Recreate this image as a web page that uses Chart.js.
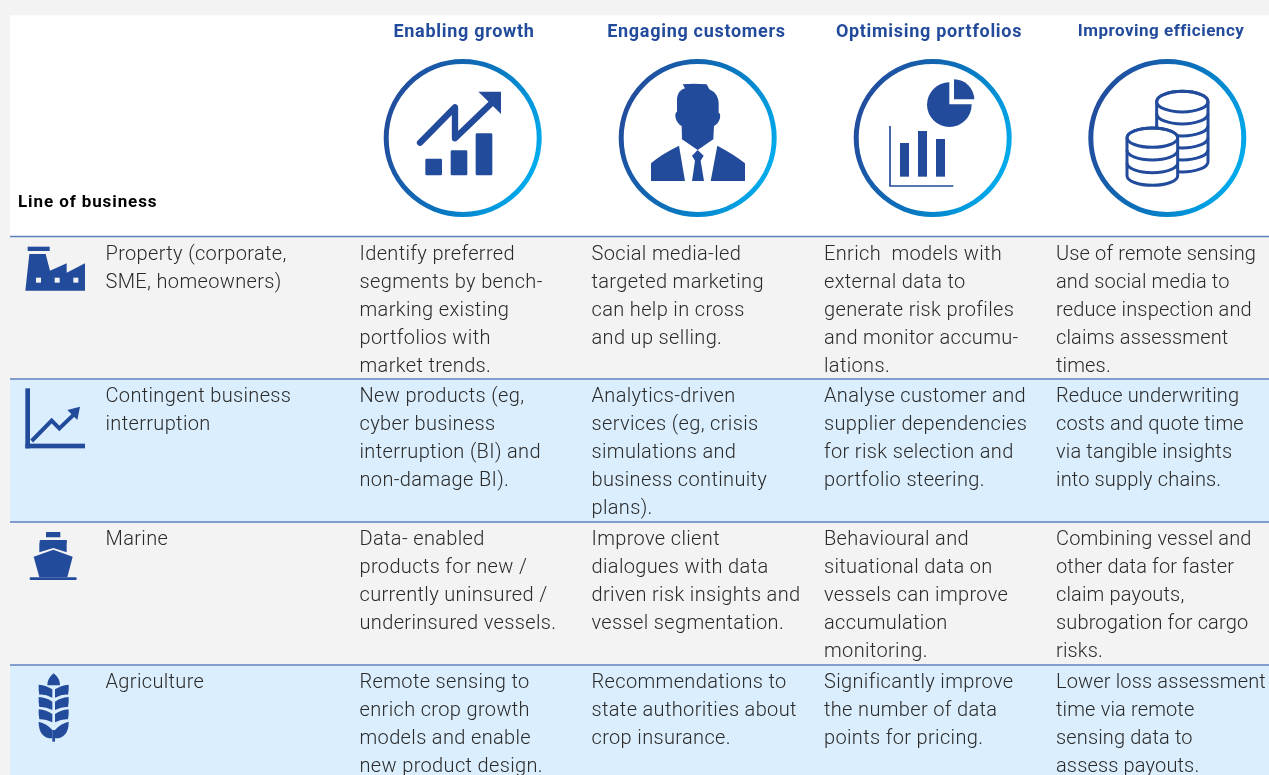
<!DOCTYPE html>
<html>
<head>
<meta charset="utf-8">
<title>Line of business</title>
<script src="https://cdn.jsdelivr.net/npm/chart.js@4"></script>
<style>
  html, body { margin: 0; padding: 0; background: #f3f3f3; overflow: hidden; }
  canvas { display: block; }
</style>
</head>
<body>
<canvas id="table" width="1269" height="775"></canvas>
<script>
const columnHeads = ['Enabling growth', 'Engaging customers', 'Optimising portfolios', 'Improving efficiency'];
const cornerLabel = 'Line of business';
const businessLines = [
  ['Property (corporate,', 'SME, homeowners)'],
  ['Contingent business', 'interruption'],
  ['Marine'],
  ['Agriculture']
];
const enablingGrowth = [
  ['Identify preferred', 'segments by bench-', 'marking existing', 'portfolios with', 'market trends.'],
  ['New products (eg,', 'cyber business', 'interruption (BI) and', 'non-damage BI).'],
  ['Data- enabled', 'products for new /', 'currently uninsured /', 'underinsured vessels.'],
  ['Remote sensing to', 'enrich crop growth', 'models and enable', 'new product design.']
];
const engagingCustomers = [
  ['Social media-led', 'targeted marketing', 'can help in cross', 'and up selling.'],
  ['Analytics-driven', 'services (eg, crisis', 'simulations and', 'business continuity', 'plans).'],
  ['Improve client', 'dialogues with data', 'driven risk insights and', 'vessel segmentation.'],
  ['Recommendations to', 'state authorities about', 'crop insurance.']
];
const optimisingPortfolios = [
  ['Enrich  models with', 'external data to', 'generate risk profiles', 'and monitor accumu-', 'lations.'],
  ['Analyse customer and', 'supplier dependencies', 'for risk selection and', 'portfolio steering.'],
  ['Behavioural and', 'situational data on', 'vessels can improve', 'accumulation', 'monitoring.'],
  ['Significantly improve', 'the number of data', 'points for pricing.']
];
const improvingEfficiency = [
  ['Use of remote sensing', 'and social media to', 'reduce inspection and', 'claims assessment', 'times.'],
  ['Reduce underwriting', 'costs and quote time', 'via tangible insights', 'into supply chains.'],
  ['Combining vessel and', 'other data for faster', 'claim payouts,', 'subrogation for cargo', 'risks.'],
  ['Lower loss assessment', 'time via remote', 'sensing data to', 'assess payouts.']
];
// band heights down the page: top margin, header, then the four rows
const bandHeights = [15, 221.5, 142.5, 143, 143, 110];
const bandColours = ['#f3f3f3', '#ffffff', '#f3f3f3', '#dbeefd', '#f3f3f3', '#dbeefd'];

const BLUE = '#234b9b';
const TEXT = '#2a2a2a';
const cellColumns = [enablingGrowth, engagingCustomers, optimisingPortfolios, improvingEfficiency];
const cellX = [359.5, 591.5, 824, 1056];
const cellSpacing = ['0.35px', '0.35px', '0.35px', '0.15px'];
const headX = [464, 696.5, 929, 1161];
const ringX = [462.7, 697.7, 932.7, 1167.3];
const textDrop = [18.5, 17.5, 17.5, 17.5];

// icons are traced in the coordinates of a 3x crop, so each one gets its own origin
function traced(c, ox, oy, fn) {
  c.save();
  c.translate(ox, oy);
  c.scale(1 / 3, 1 / 3);
  c.fillStyle = BLUE;
  c.strokeStyle = BLUE;
  fn(c);
  c.restore();
}
function fillPath(c, d) { c.fill(new Path2D(d)); }

function drawRing(c, x) {
  const y = 138, r = 76.5;
  const g = c.createLinearGradient(x - r, y - 30, x + r, y + 30);
  g.addColorStop(0, '#234b9b');
  g.addColorStop(0.5, '#0a71bb');
  g.addColorStop(1, '#00aeef');
  c.save();
  c.strokeStyle = g;
  c.lineWidth = 5;
  c.beginPath();
  c.arc(x, y, r, 0, Math.PI * 2);
  c.stroke();
  c.restore();
}

function iconGrowth(c) {
  for (const b of [[196, 476, 50, 50], [272, 451, 50, 75], [347, 400, 50, 126]]) {
    c.beginPath();
    c.roundRect(b[0], b[1], b[2], b[3], 4);
    c.fill();
  }
  c.lineWidth = 19;
  c.lineCap = 'round';
  c.lineJoin = 'round';
  c.stroke(new Path2D('M180,428 L285,322 L285,415 L392,312'));
  fillPath(c, 'M355,275 L423,275 L423,342 Z');
}
function iconPerson(c) {
  fillPath(c, 'M968,253 Q1000,250 1040,253 L1048,268 Q1075,280 1076,310 L1076,338 Q1082,340 1080,355 Q1075,372 1062,378 L1060,418 L1013,450 L966,418 L965,378 Q950,370 946,350 Q945,338 951,335 L951,295 Q955,270 975,265 Z');
  fillPath(c, 'M873,543 L873,490 Q900,465 957,437 L975,543 Z');
  fillPath(c, 'M1155,543 L1155,490 Q1125,465 1072,437 L1052,543 Z');
  fillPath(c, 'M1013,450 L1031,467 L1022,482 L1032,543 L996,543 L1005,482 L996,467 Z');
}
function iconPortfolio(c) {
  fillPath(c, 'M388,247 A67,67 0 1 0 455,313 L388,313 Z');
  fillPath(c, 'M402,238 A61,61 0 0 1 463,298 L402,298 Z');
  for (const b of [[240, 429, 27, 101], [294, 393, 27, 137], [348, 417, 27, 113]]) c.fillRect(b[0], b[1], b[2], b[3]);
  c.lineWidth = 5;
  c.stroke(new Path2D('M210,378 L210,558 L400,558'));
}
function coinStack(c, cx, top, rx, ry, step, n) {
  const bottom = top + step * n;
  c.lineWidth = 9;
  c.fillStyle = '#ffffff';
  c.beginPath();
  c.moveTo(cx - rx, top);
  c.lineTo(cx - rx, bottom);
  c.ellipse(cx, bottom, rx, ry, 0, Math.PI, 0, true);
  c.lineTo(cx + rx, top);
  c.ellipse(cx, top, rx, ry, 0, 0, Math.PI, true);
  c.closePath();
  c.fill();
  c.stroke();
  for (let i = 1; i < n; i++) {
    c.beginPath();
    c.ellipse(cx, top + step * i, rx, ry, 0, Math.PI, 0, true);
    c.stroke();
  }
  c.beginPath();
  c.ellipse(cx, top, rx, ry, 0, 0, Math.PI * 2);
  c.stroke();
}
function iconCoins(c) {
  coinStack(c, 1087, 305, 77, 31, 36, 5);
  coinStack(c, 997, 413, 76, 29, 38, 3);
}
function iconFactory(c) {
  c.fillRect(83, 200, 66, 13);
  fillPath(c, 'M76,332 L88,222 L137,222 L150,272 L200,250 L200,278 L255,250 L255,332 Z');
  c.fillStyle = '#f3f3f3';
  for (const x of [108, 164, 220]) c.fillRect(x, 293, 15, 15);
}
function iconInterruption(c) {
  c.fillRect(76, 625, 14, 180);
  c.fillRect(76, 791, 179, 14);
  c.lineWidth = 12;
  c.stroke(new Path2D('M95,783 L155,722 L178,745 L222,703'));
  fillPath(c, 'M202,690 L240,680 L232,720 Z');
}
function iconShip(c) {
  c.beginPath();
  c.roundRect(138, 66, 43, 16, 2);
  c.fill();
  c.beginPath();
  c.roundRect(119, 90, 82, 9, 3);
  c.fill();
  fillPath(c, 'M118,98 L200,98 L200,127 L160,114 L118,127 Z');
  fillPath(c, 'M101,140 L160,119 L218,140 L202,202 L118,202 Z');
  c.beginPath();
  c.roundRect(89, 202, 141, 8, 3);
  c.fill();
}
function iconWheat(c) {
  fillPath(c, 'M161,490 Q180,505 180,526 L142,526 Q142,505 161,490 Z');
  for (const y of [524, 561, 598]) {
    fillPath(c, `M116,${y} Q140,${y + 2} 157,${y + 14} L157,${y + 39} Q135,${y + 28} 118,${y + 30} Q115,${y + 14} 116,${y} Z`);
    fillPath(c, `M206,${y} Q182,${y + 2} 165,${y + 14} L165,${y + 39} Q187,${y + 28} 204,${y + 30} Q207,${y + 14} 206,${y} Z`);
  }
  fillPath(c, 'M116,635 Q140,640 157,660 L157,685 Q116,685 116,635 Z');
  fillPath(c, 'M206,635 Q182,640 165,660 L165,685 Q206,685 206,635 Z');
  c.fillRect(157, 660, 8, 35);
}

const tableText = {
  id: 'tableText',
  afterDatasetsDraw(chart) {
    const c = chart.ctx, y = chart.scales.y;
    const edge = i => y.getPixelForValue(bandHeights.slice(0, i).reduce((a, b) => a + b, 0));
    c.save();
    c.textBaseline = 'middle';

    // header
    c.fillStyle = BLUE;
    c.textAlign = 'center';
    columnHeads.forEach((t, i) => {
      c.font = (i == 3 ? '700 17px' : '700 18px') + ' Roboto';
      c.letterSpacing = i == 3 ? '0.5px' : '0.7px';
      c.fillText(t, headX[i], 32);
    });
    c.letterSpacing = '0px';
    ringX.forEach(x => drawRing(c, x));
    traced(c, 360, 0, iconGrowth);
    traced(c, 360, 0, iconPerson);
    traced(c, 820, 0, iconPortfolio);
    traced(c, 820, 0, iconCoins);
    traced(c, 0, 180, iconFactory);
    traced(c, 0, 180, iconInterruption);
    traced(c, 0, 510, iconShip);
    traced(c, 0, 510, iconWheat);

    c.textAlign = 'left';
    c.fillStyle = '#000000';
    c.font = '700 17px Roboto';
    c.letterSpacing = '0.9px';
    c.fillText(cornerLabel, 18, 203);

    // row rules and cell text
    c.font = '300 20px Roboto';
    businessLines.forEach((lines, r) => {
      const top = edge(r + 2);
      c.strokeStyle = '#5f80bf';
      c.lineWidth = 1.5;
      c.beginPath();
      c.moveTo(10, top);
      c.lineTo(1269, top);
      c.stroke();
      c.fillStyle = TEXT;
      c.letterSpacing = '0.35px';
      lines.forEach((t, k) => c.fillText(t, 105.5, top + textDrop[r] + k * 28));
      cellColumns.forEach((col, n) => {
        c.letterSpacing = cellSpacing[n];
        col[r].forEach((t, k) => c.fillText(t, cellX[n], top + textDrop[r] + k * 28));
      });
    });
    c.restore();
  }
};

new Chart(document.getElementById('table'), {
  type: 'bar',
  data: {
    labels: ['table'],
    datasets: bandHeights.map((h, i) => ({ data: [h], backgroundColor: bandColours[i], borderWidth: 0 }))
  },
  options: {
    responsive: false,
    animation: false,
    barPercentage: 1,
    categoryPercentage: 1,
    layout: { padding: { left: 10 } },
    plugins: { legend: { display: false }, tooltip: { enabled: false } },
    scales: {
      x: { display: false, stacked: true },
      y: { display: false, stacked: true, reverse: true, min: 0, max: 775 }
    }
  },
  plugins: [tableText]
});
</script>
</body>
</html>
